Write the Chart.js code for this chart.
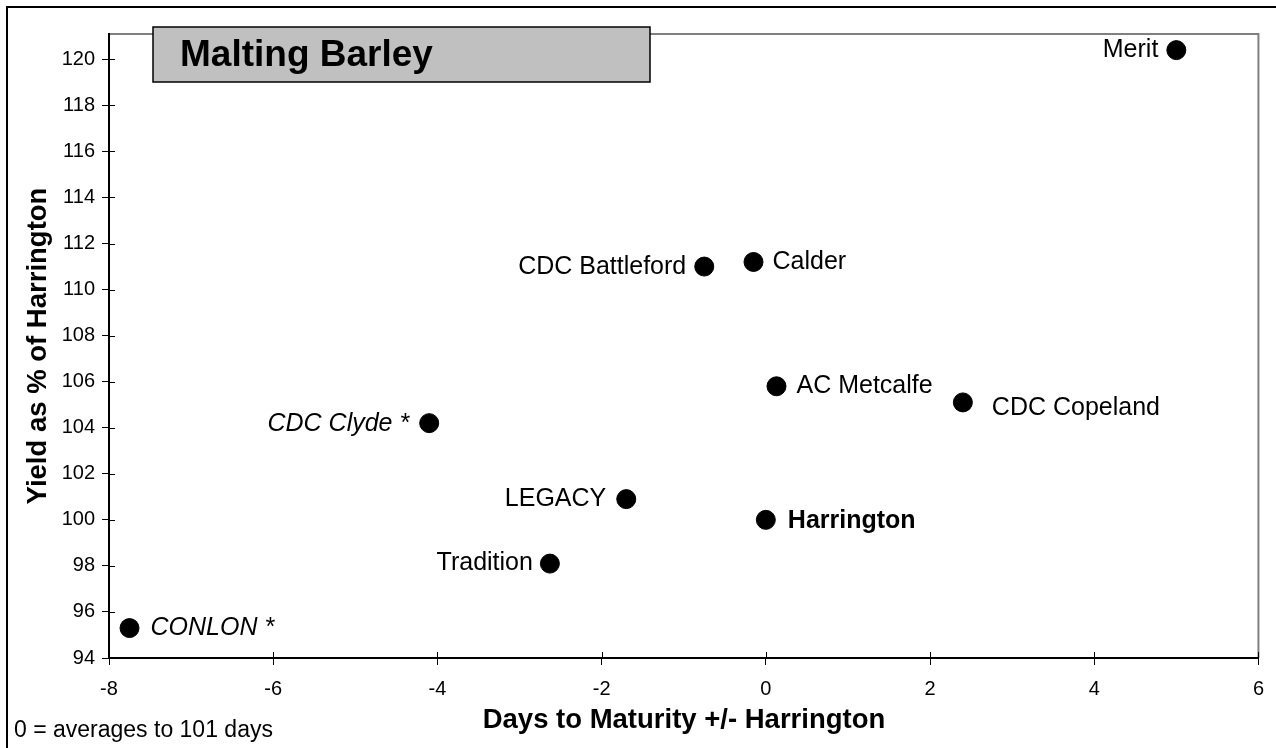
<!DOCTYPE html>
<html>
<head>
<meta charset="utf-8">
<script src="https://cdn.jsdelivr.net/npm/chart.js@4.4.0/dist/chart.umd.min.js"></script>
<style>
    body { margin: 0; background: #fff; }
    #wrap { width: 1276px; height: 748px; position: relative; }
</style>
</head>
<body>
<div id="wrap"><canvas id="grafico"></canvas></div>
<script>
// data
const variedades = ['Merit', 'CDC Battleford', 'Calder', 'AC Metcalfe', 'CDC Copeland', 'CDC Clyde *', 'LEGACY', 'Harrington', 'Tradition', 'CONLON *'];
const dias = [5.0, -0.75, -0.15, 0.13, 2.4, -4.1, -1.7, 0, -2.63, -7.75];
const rendimento = [120.4, 111.0, 111.2, 105.8, 105.1, 104.2, 100.9, 100.0, 98.1, 95.3];
const xMin = -8, xMax = 6, xPasso = 2;
const yMin = 94, yMax = 121.1, yPasso = 2;

const tituloGrafico = 'Malting Barley';
const tituloX = 'Days to Maturity +/- Harrington';
const tituloY = 'Yield as % of Harrington';
const nota = '0 = averages to 101 days';

// how each label sits next to its point
const estiloRotulo = [
    { lado: 'left', dx: -18, dy: 0 },
    { lado: 'left', dx: -18, dy: 1 },
    { lado: 'right', dx: 19, dy: 0 },
    { lado: 'right', dx: 20, dy: 0 },
    { lado: 'right', dx: 29, dy: 6 },
    { lado: 'left', dx: -20, dy: 1, italico: true },
    { lado: 'left', dx: -20, dy: 0 },
    { lado: 'right', dx: 22, dy: 1, negrito: true },
    { lado: 'left', dx: -17, dy: 0 },
    { lado: 'right', dx: 21, dy: 0, italico: true }
];

const fonte = '"Liberation Sans", Arial, sans-serif';

const extras = {
    id: 'extras',
    beforeDraw(chart) {
        const ctx = chart.ctx;
        ctx.save();
        // outer frame
        ctx.strokeStyle = '#000';
        ctx.lineWidth = 2;
        ctx.beginPath();
        ctx.moveTo(7, 748);
        ctx.lineTo(7, 7);
        ctx.lineTo(1276, 7);
        ctx.stroke();
        // grey top / right edge of the plot
        const a = chart.chartArea;
        ctx.strokeStyle = '#808080';
        ctx.beginPath();
        ctx.moveTo(a.left, a.top);
        ctx.lineTo(a.right, a.top);
        ctx.lineTo(a.right, a.bottom);
        ctx.stroke();
        ctx.restore();
    },
    afterDatasetsDraw(chart) {
        const ctx = chart.ctx;
        const pontos = chart.getDatasetMeta(0).data;
        ctx.save();
        ctx.fillStyle = '#000';
        ctx.textBaseline = 'middle';
        pontos.forEach((p, i) => {
            const e = estiloRotulo[i];
            ctx.font = (e.italico ? 'italic ' : '') + (e.negrito ? 'bold ' : '') + '25px ' + fonte;
            ctx.textAlign = e.lado === 'left' ? 'right' : 'left';
            ctx.fillText(variedades[i], p.x + e.dx, p.y + e.dy);
        });
        ctx.restore();
    },
    afterDraw(chart) {
        const ctx = chart.ctx;
        const a = chart.chartArea;
        const sx = chart.scales.x;
        const sy = chart.scales.y;
        ctx.save();
        // tick marks crossing into the plot
        ctx.strokeStyle = '#000';
        ctx.lineWidth = 1;
        ctx.beginPath();
        sx.ticks.forEach(t => {
            const x = Math.round(sx.getPixelForValue(t.value)) + 0.5;
            ctx.moveTo(x, a.bottom);
            ctx.lineTo(x, a.bottom - 6);
        });
        sy.ticks.forEach(t => {
            const y = Math.round(sy.getPixelForValue(t.value)) + 0.5;
            ctx.moveTo(a.left, y);
            ctx.lineTo(a.left + 6, y);
        });
        ctx.stroke();

        // title box
        ctx.fillStyle = '#c0c0c0';
        ctx.fillRect(153, 27, 497, 55);
        ctx.strokeStyle = '#000';
        ctx.lineWidth = 1.5;
        ctx.strokeRect(153, 27, 497, 55);
        ctx.fillStyle = '#000';
        ctx.font = 'bold 37px ' + fonte;
        ctx.textAlign = 'left';
        ctx.textBaseline = 'middle';
        ctx.fillText(tituloGrafico, 180, 56);

        // axis titles
        ctx.font = 'bold 27.5px ' + fonte;
        ctx.textAlign = 'center';
        ctx.fillText(tituloX, 684, 720);
        ctx.save();
        ctx.translate(38, 346);
        ctx.rotate(-Math.PI / 2);
        ctx.fillText(tituloY, 0, 0);
        ctx.restore();

        // footnote
        ctx.font = '23px ' + fonte;
        ctx.textAlign = 'left';
        ctx.fillText(nota, 14, 731);
        ctx.restore();
    }
};

new Chart(document.getElementById('grafico'), {
    type: 'scatter',
    data: {
        datasets: [{
            data: dias.map((d, i) => ({ x: d, y: rendimento[i] })),
            backgroundColor: '#000',
            borderColor: '#000',
            pointRadius: 9.5,
            pointHoverRadius: 9.5
        }]
    },
    options: {
        responsive: true,
        maintainAspectRatio: false,
        animation: false,
        events: [],
        layout: { padding: { left: 0, top: 34, right: 14, bottom: 0 } },
        plugins: {
            legend: { display: false },
            tooltip: { enabled: false },
            title: { display: false }
        },
        scales: {
            x: {
                type: 'linear',
                min: xMin,
                max: xMax,
                afterFit: (s) => { s.height = 90; },
                border: { display: true, color: '#000', width: 2 },
                grid: { drawOnChartArea: false, drawTicks: true, tickLength: 7, color: '#000' },
                ticks: {
                    stepSize: xPasso,
                    includeBounds: false,
                    padding: 12,
                    color: '#000',
                    font: { family: fonte, size: 20 }
                }
            },
            y: {
                type: 'linear',
                min: yMin,
                max: yMax,
                afterFit: (s) => { s.width = 109; },
                border: { display: true, color: '#000', width: 2 },
                grid: { drawOnChartArea: false, drawTicks: true, tickLength: 7, color: '#000' },
                ticks: {
                    stepSize: yPasso,
                    includeBounds: false,
                    padding: 7,
                    color: '#000',
                    font: { family: fonte, size: 20 }
                }
            }
        }
    },
    plugins: [extras]
});
</script>
</body>
</html>
